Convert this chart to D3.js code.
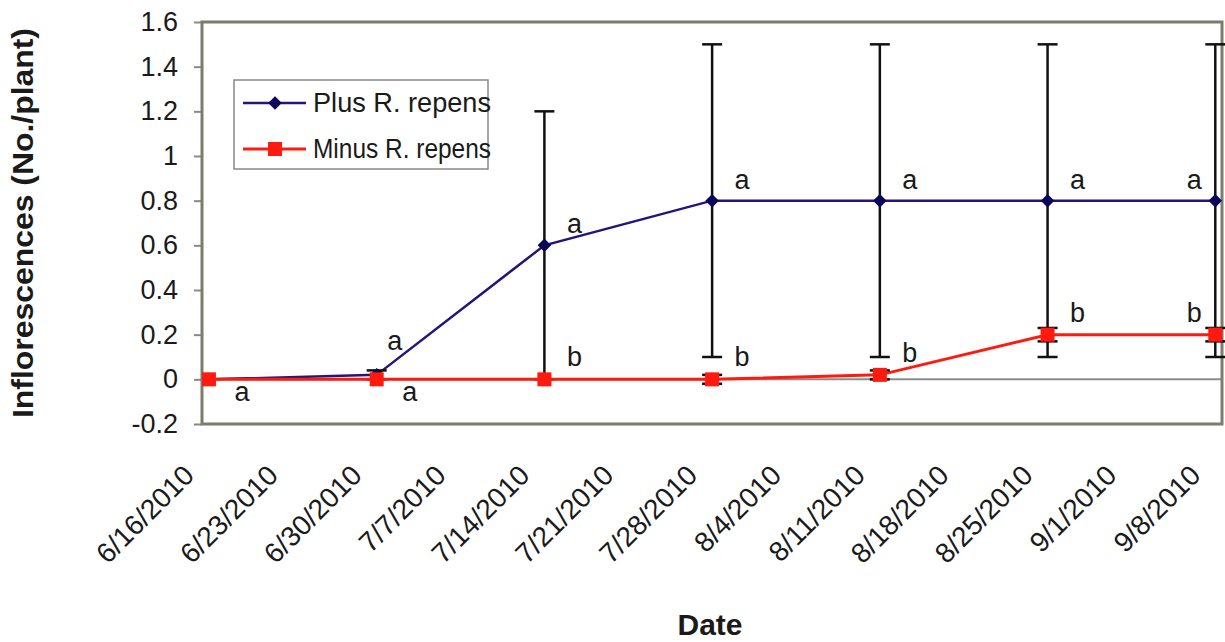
<!DOCTYPE html>
<html>
<head>
<meta charset="utf-8">
<script src="https://cdn.jsdelivr.net/npm/d3@7"></script>
<style>
    body { margin: 0; background: #fff; }
    text { font-family: "Liberation Sans", Arial, sans-serif; fill: #1a1a1a; }
</style>
</head>
<body>
<div id="chart"></div>
<script>
    "use strict";

    // weekly tick labels on the date axis
    const tickDates = ["6/16/2010", "6/23/2010", "6/30/2010", "7/7/2010", "7/14/2010", "7/21/2010", "7/28/2010",
        "8/4/2010", "8/11/2010", "8/18/2010", "8/25/2010", "9/1/2010", "9/8/2010"];
    // sampling dates
    const sampleDates = ["6/16/2010", "6/30/2010", "7/14/2010", "7/28/2010", "8/11/2010", "8/25/2010", "9/8/2010"];

    const plusValues = [0, 0.02, 0.6, 0.8, 0.8, 0.8, 0.8];
    const plusErrors = [0, 0.02, 0.6, 0.7, 0.7, 0.7, 0.7];
    const plusLetters = ["", "a", "a", "a", "a", "a", "a"];

    const minusValues = [0, 0, 0, 0, 0.02, 0.2, 0.2];
    const minusErrors = [0, 0, 0, 0.02, 0.02, 0.03, 0.03];
    const minusLetters = ["a", "a", "b", "b", "b", "b", "b"];

    const yTicks = [-0.2, 0, 0.2, 0.4, 0.6, 0.8, 1, 1.2, 1.4, 1.6];

    const seriesNames = ["Plus R. repens", "Minus R. repens"];

    const width = 1225;
    const height = 642;
    const plot = { left: 202, right: 1222, top: 22, bottom: 424 };

    const parseDate = d3.utcParse("%m/%d/%Y");
    const day = 24 * 3600 * 1000;

    let svg = d3.select("#chart").append("svg")
        .attr("width", width)
        .attr("height", height);

    // date scale: Excel leaves a little room around the first and last day
    let first = parseDate(sampleDates[0]);
    let last = parseDate(sampleDates[sampleDates.length - 1]);
    let xScale = d3.scaleUtc()
        .domain([new Date(+first - 0.58 * day), new Date(+last + 0.56 * day)])
        .range([plot.left, plot.right]);

    let yScale = d3.scaleLinear()
        .domain([-0.2, 1.6])
        .range([plot.bottom, plot.top]);

    // y axis with outside ticks, plain hyphen for negatives
    let yAxis = d3.axisLeft(yScale)
        .tickValues(yTicks)
        .tickFormat(d => String(+d.toFixed(1)))
        .tickSizeInner(8)
        .tickSizeOuter(0)
        .tickPadding(16);

    let yAxisG = svg.append("g")
        .attr("transform", `translate(${plot.left},0)`)
        .call(yAxis);
    yAxisG.select(".domain").remove();
    yAxisG.selectAll("line").attr("stroke", "#8a8a80").attr("stroke-width", 2);
    yAxisG.selectAll("text")
        .style("font-size", "27px")
        .style("font-family", "'Liberation Sans', Arial, sans-serif")
        .attr("fill", "#1a1a1a");

    // zero line
    svg.append("line")
        .attr("x1", plot.left).attr("x2", plot.right)
        .attr("y1", yScale(0)).attr("y2", yScale(0))
        .attr("stroke", "#8c8c8c")
        .attr("stroke-width", 2);

    // plot frame
    svg.append("rect")
        .attr("x", plot.left).attr("y", plot.top)
        .attr("width", plot.right - plot.left)
        .attr("height", plot.bottom - plot.top)
        .attr("fill", "none")
        .attr("stroke", "#7c7c6c")
        .attr("stroke-width", 3);

    // rotated date labels
    svg.append("g").selectAll("text")
        .data(tickDates)
        .enter()
        .append("text")
        .attr("transform", d => `translate(${xScale(parseDate(d)) - 20},470) rotate(-45)`)
        .attr("text-anchor", "end")
        .attr("dy", "0.35em")
        .style("font-size", "28px")
        .text(d => d);

    // axis titles
    svg.append("text")
        .attr("transform", `translate(33,${(plot.top + plot.bottom) / 2}) rotate(-90)`)
        .attr("text-anchor", "middle")
        .attr("textLength", 390)
        .attr("lengthAdjust", "spacingAndGlyphs")
        .style("font-size", "29px")
        .style("font-weight", "bold")
        .text("Inflorescences (No./plant)");

    svg.append("text")
        .attr("x", 710)
        .attr("y", 635)
        .attr("text-anchor", "middle")
        .style("font-size", "30px")
        .style("font-weight", "bold")
        .text("Date");

    function buildPoints(values, errors, letters) {
        return sampleDates.map((d, i) => ({
            x: xScale(parseDate(d)),
            value: values[i],
            error: errors[i],
            letter: letters[i],
            index: i
        }));
    }

    let plusPoints = buildPoints(plusValues, plusErrors, plusLetters);
    let minusPoints = buildPoints(minusValues, minusErrors, minusLetters);

    let line = d3.line()
        .x(d => d.x)
        .y(d => yScale(d.value));

    function drawErrorBars(points) {
        let g = svg.append("g")
            .attr("stroke", "#111")
            .attr("stroke-width", 2.5);
        let bars = points.filter(p => p.error > 0);
        g.selectAll(".stem")
            .data(bars)
            .enter()
            .append("line")
            .attr("x1", d => d.x).attr("x2", d => d.x)
            .attr("y1", d => yScale(d.value - d.error))
            .attr("y2", d => yScale(d.value + d.error));
        g.selectAll(".cap")
            .data(bars.flatMap(d => [d.value - d.error, d.value + d.error].map(v => ({ x: d.x, v: v }))))
            .enter()
            .append("line")
            .attr("x1", d => d.x - 10).attr("x2", d => d.x + 10)
            .attr("y1", d => yScale(d.v)).attr("y2", d => yScale(d.v));
    }

    // Plus series
    svg.append("path")
        .datum(plusPoints)
        .attr("d", line)
        .attr("fill", "none")
        .attr("stroke", "#24147c")
        .attr("stroke-width", 2.5);
    drawErrorBars(plusPoints);
    svg.append("g").selectAll("path")
        .data(plusPoints)
        .enter()
        .append("path")
        .attr("transform", d => `translate(${d.x},${yScale(d.value)}) rotate(45)`)
        .attr("d", "M-4.8,-4.8H4.8V4.8H-4.8Z")
        .attr("fill", "#0c0658");

    // Minus series
    svg.append("path")
        .datum(minusPoints)
        .attr("d", line)
        .attr("fill", "none")
        .attr("stroke", "#ff1a10")
        .attr("stroke-width", 3);
    drawErrorBars(minusPoints);
    svg.append("g").selectAll("rect")
        .data(minusPoints)
        .enter()
        .append("rect")
        .attr("x", d => d.x - 7)
        .attr("y", d => yScale(d.value) - 7)
        .attr("width", 14)
        .attr("height", 14)
        .attr("fill", "#ff1a10");

    // significance letters: right of the point, left of it at the last date
    function letterX(d) {
        return d.index === sampleDates.length - 1 ? d.x - 21 : d.x + 30;
    }

    svg.append("g").selectAll("text")
        .data(plusPoints.filter(d => d.letter))
        .enter()
        .append("text")
        .attr("x", d => d.index === 1 ? d.x + 18 : letterX(d))
        .attr("y", d => yScale(d.value) - (d.index === 1 ? 25 : 12))
        .attr("text-anchor", "middle")
        .style("font-size", "27px")
        .text(d => d.letter);

    svg.append("g").selectAll("text")
        .data(minusPoints)
        .enter()
        .append("text")
        .attr("x", d => d.index < 2 ? d.x + 33 : letterX(d))
        .attr("y", d => d.index < 2 ? yScale(d.value) + 22 : yScale(d.value) - 13)
        .attr("text-anchor", "middle")
        .style("font-size", "27px")
        .text(d => d.letter);

    // legend
    let legend = svg.append("g").attr("transform", "translate(234,80)");
    legend.append("rect")
        .attr("width", 254)
        .attr("height", 89)
        .attr("fill", "#fff")
        .attr("stroke", "#888")
        .attr("stroke-width", 1.5);

    let entries = legend.selectAll(".entry")
        .data(seriesNames)
        .enter()
        .append("g")
        .attr("transform", (_d, i) => `translate(0,${23 + i * 46})`);

    entries.append("line")
        .attr("x1", 9).attr("x2", 72)
        .attr("stroke", (_d, i) => i === 0 ? "#24147c" : "#ff1a10")
        .attr("stroke-width", (_d, i) => i === 0 ? 2.5 : 3);

    entries.filter((_d, i) => i === 0).append("path")
        .attr("transform", "translate(41,0) rotate(45)")
        .attr("d", "M-4.8,-4.8H4.8V4.8H-4.8Z")
        .attr("fill", "#0c0658");

    entries.filter((_d, i) => i === 1).append("rect")
        .attr("x", 34).attr("y", -7)
        .attr("width", 14).attr("height", 14)
        .attr("fill", "#ff1a10");

    entries.append("text")
        .attr("x", 79)
        .attr("dy", "0.35em")
        .attr("textLength", 178)
        .attr("lengthAdjust", "spacingAndGlyphs")
        .style("font-size", "27px")
        .text(d => d);
</script>
</body>
</html>
